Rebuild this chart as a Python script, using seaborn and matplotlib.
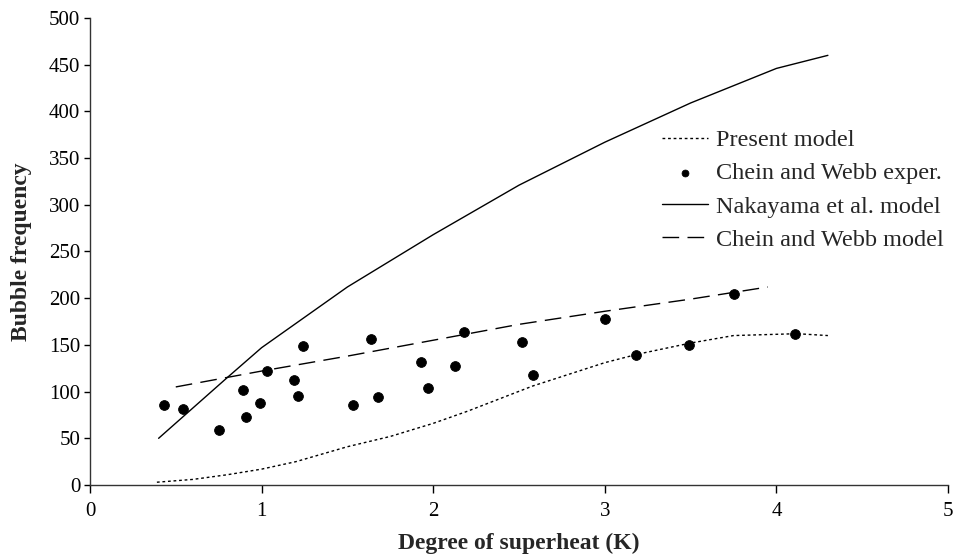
import matplotlib
matplotlib.use("Agg")
import matplotlib.pyplot as plt
import seaborn as sns

sns.set_theme(style="ticks")
plt.rcParams['font.family'] = ['Liberation Serif', 'DejaVu Serif']

# Present model (dotted)
present_x = [0.39, 0.6, 0.8, 1.0, 1.2, 1.5, 1.75, 2.0, 2.2, 2.58, 3.0, 3.19, 3.5, 3.75, 4.12, 4.3]
present_y = [3, 6, 11, 17, 25, 41, 52, 66, 79, 106, 131, 140, 152, 160, 162, 160]

# Chein and Webb experimental points
exp_x = [0.43, 0.54, 0.75, 0.89, 0.91, 0.99, 1.03, 1.19, 1.21, 1.24, 1.53, 1.64, 1.68,
         1.93, 1.97, 2.13, 2.18, 2.52, 2.58, 3.00, 3.18, 3.49, 3.75, 4.11]
exp_y = [86, 81, 59, 102, 73, 88, 122, 112, 95, 149, 86, 156, 94,
         132, 104, 127, 164, 153, 118, 178, 139, 150, 204, 162]

# Nakayama et al. model (solid)
nak_x = [0.40, 0.8, 1.0, 1.5, 2.0, 2.5, 3.0, 3.5, 4.0, 4.3]
nak_y = [50, 115, 147, 212, 268, 321, 367, 409, 446, 460]

# Chein and Webb model (dashed)
cw_x = [0.50, 1.0, 1.5, 2.0, 2.5, 3.0, 3.5, 3.95]
cw_y = [105, 122, 138, 155, 172, 186, 199, 212]

x_ticks = [0, 1, 2, 3, 4, 5]
y_ticks = [0, 50, 100, 150, 200, 250, 300, 350, 400, 450, 500]

fig = plt.figure(figsize=(9.55, 5.55), dpi=100)
ax = fig.add_axes([0.0942, 0.1261, 0.8985, 0.8415])

sns.lineplot(x=present_x, y=present_y, ax=ax, color='black', lw=1.0,
             linestyle=(0, (2, 2)), label='Present model', sort=False)
sns.scatterplot(x=exp_x, y=exp_y, ax=ax, color='black', s=50, edgecolor='black',
                label='Chein and Webb exper.')
sns.lineplot(x=nak_x, y=nak_y, ax=ax, color='black', lw=1.0,
             label='Nakayama et al. model', sort=False)
sns.lineplot(x=cw_x, y=cw_y, ax=ax, color='black', lw=1.0,
             linestyle=(0, (12, 6)), label='Chein and Webb model', sort=False)

ax.set_xlim(0, 5)
ax.set_ylim(0, 500)
ax.set_xticks(x_ticks)
ax.set_yticks(y_ticks)
ax.tick_params(labelsize=15, colors='black', direction='out', width=1)
ax.tick_params(axis='x', length=6, pad=6)
ax.tick_params(axis='y', length=4, pad=3)
ax.set_xlabel('Degree of superheat (K)', fontsize=17, fontweight='bold', labelpad=9)
ax.set_ylabel('Bubble frequency', fontsize=17, fontweight='bold', labelpad=12)
for s in ['top', 'right']:
    ax.spines[s].set_visible(False)
for s in ['left', 'bottom']:
    ax.spines[s].set_color('#333333')
    ax.spines[s].set_linewidth(1.0)

leg = ax.legend(loc='upper left', bbox_to_anchor=(0.667, 0.762), frameon=False,
                fontsize=17.5, handlelength=1.9, labelspacing=0.46, handletextpad=0.3,
                borderpad=0, borderaxespad=0, markerscale=0.7)

fig.savefig('out.png', dpi=100)
